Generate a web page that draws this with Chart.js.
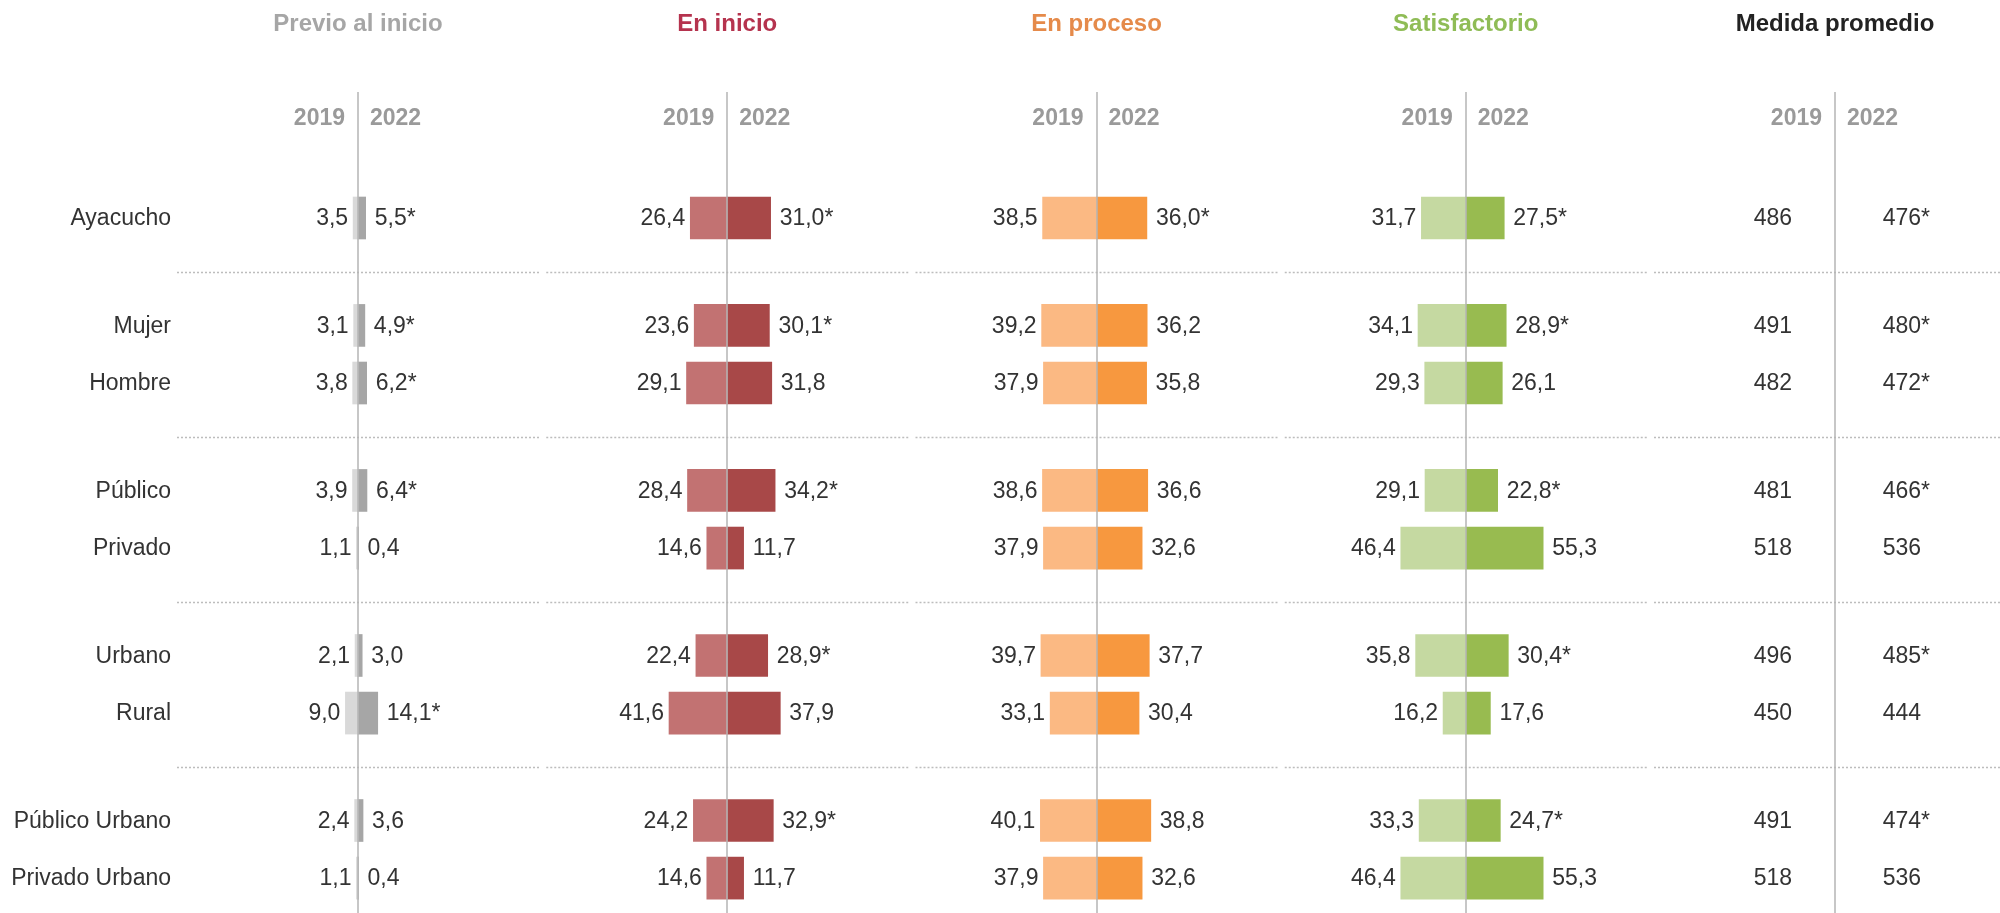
<!DOCTYPE html>
<html lang="es">
<head>
<meta charset="utf-8">
<title>Niveles de logro - Ayacucho</title>
<script src="https://cdn.jsdelivr.net/npm/chart.js@4.4.1/dist/chart.umd.min.js"></script>
<style>
    html, body { margin: 0; padding: 0; background: #fff; }
    #wrap { width: 2000px; height: 913px; position: relative; }
</style>
</head>
<body>
<div id="wrap"><canvas id="chart" width="2000" height="913"></canvas></div>
<script>
/* =========================
   DATA
   ========================= */
const rows = ['Ayacucho', 'Mujer', 'Hombre', 'Público', 'Privado', 'Urbano', 'Rural', 'Público Urbano', 'Privado Urbano'];
// groupe de chaque ligne (séparateurs pointillés entre groupes)
const rowGroup = [0, 1, 1, 2, 2, 3, 3, 4, 4];

const years = ['2019', '2022'];
const levels = ['Previo al inicio', 'En inicio', 'En proceso', 'Satisfactorio'];
const scoreTitle = 'Medida promedio';

const previo2019 = [3.5, 3.1, 3.8, 3.9, 1.1, 2.1, 9.0, 2.4, 1.1];
const previo2022 = [5.5, 4.9, 6.2, 6.4, 0.4, 3.0, 14.1, 3.6, 0.4];
const previoSig = [true, true, true, true, false, false, true, false, false];

const inicio2019 = [26.4, 23.6, 29.1, 28.4, 14.6, 22.4, 41.6, 24.2, 14.6];
const inicio2022 = [31.0, 30.1, 31.8, 34.2, 11.7, 28.9, 37.9, 32.9, 11.7];
const inicioSig = [true, true, false, true, false, true, false, true, false];

const proceso2019 = [38.5, 39.2, 37.9, 38.6, 37.9, 39.7, 33.1, 40.1, 37.9];
const proceso2022 = [36.0, 36.2, 35.8, 36.6, 32.6, 37.7, 30.4, 38.8, 32.6];
const procesoSig = [true, false, false, false, false, false, false, false, false];

const satis2019 = [31.7, 34.1, 29.3, 29.1, 46.4, 35.8, 16.2, 33.3, 46.4];
const satis2022 = [27.5, 28.9, 26.1, 22.8, 55.3, 30.4, 17.6, 24.7, 55.3];
const satisSig = [true, true, false, true, false, true, false, true, false];

const score2019 = [486, 491, 482, 481, 518, 496, 450, 491, 518];
const score2022 = [476, 480, 472, 466, 536, 485, 444, 474, 536];
const scoreSig = [true, true, true, true, false, true, false, true, false];

/* =========================
   CONFIG (mise en page / couleurs)
   ========================= */
const CONFIG = {
    font: '"Liberation Sans", Arial, sans-serif',
    pxPerUnit: 1.4,        // largeur d'une unité de % en pixels
    firstAxis: 358,        // x de l'axe du premier panneau
    panelStep: 369.25,     // écart entre deux axes
    panelHalf: 183,
    rowStep: 57.6,         // écart entre deux lignes
    groupGap: 0.865,       // espace supplémentaire entre groupes (en lignes)
    firstRowY: 218,
    axisTop: 92,
    titleY: 24,
    yearY: 119,
    labelRight: 171,
    barThickness: 42,
    colors: {
        previo: { title: '#a6a6a6', y19: '#d9d9d9', y22: '#a6a6a6' },
        inicio: { title: '#b5334e', y19: '#c27272', y22: '#a84848' },
        proceso: { title: '#e58a4a', y19: '#fbb983', y22: '#f7983f' },
        satis: { title: '#8fbc56', y19: '#c5d9a1', y22: '#98bb50' },
        score: { title: '#222222' },
        text: '#333333',
        year: '#9a9a9a',
        axis: '#b4b4b4',
        dots: '#bdbdbd'
    }
};

const panels = [
    { key: 'previo', title: levels[0], v19: previo2019, v22: previo2022, sig: previoSig },
    { key: 'inicio', title: levels[1], v19: inicio2019, v22: inicio2022, sig: inicioSig },
    { key: 'proceso', title: levels[2], v19: proceso2019, v22: proceso2022, sig: procesoSig },
    { key: 'satis', title: levels[3], v19: satis2019, v22: satis2022, sig: satisSig }
];

// position verticale de chaque ligne (unités = lignes)
const rowPos = rows.map((r, i) => i + rowGroup[i] * CONFIG.groupGap);

function fmt(v) {
    return v.toFixed(1).replace('.', ',');
}

/* =========================
   SCALES
   ========================= */
const W = 2000, H = 913;

function axisX(k) {
    return CONFIG.firstAxis + k * CONFIG.panelStep;
}

const scales = {
    y: {
        type: 'linear',
        display: false,
        reverse: true,
        offset: false,
        grid: { offset: false },
        bounds: 'data',
        min: -CONFIG.firstRowY / CONFIG.rowStep,
        max: (H - CONFIG.firstRowY) / CONFIG.rowStep
    }
};
for (let k = 0; k < 5; k++) {
    scales['x' + k] = {
        type: 'linear',
        display: false,
        axis: 'x',
        offset: false,
        min: -axisX(k) / CONFIG.pxPerUnit,
        max: (W - axisX(k)) / CONFIG.pxPerUnit
    };
}

/* =========================
   DATASETS
   ========================= */
const datasets = [];
panels.forEach((p, k) => {
    const c = CONFIG.colors[p.key];
    datasets.push({
        label: p.title + ' ' + years[0],
        xAxisID: 'x' + k,
        data: p.v19.map((v, i) => ({ x: -v, y: rowPos[i] })),
        backgroundColor: c.y19,
        panel: k, year: 0
    });
    datasets.push({
        label: p.title + ' ' + years[1],
        xAxisID: 'x' + k,
        data: p.v22.map((v, i) => ({ x: v, y: rowPos[i] })),
        backgroundColor: c.y22,
        panel: k, year: 1
    });
});

/* =========================
   PLUGIN: textes, axes, séparateurs
   ========================= */
const decorPlugin = {
    id: 'decor',
    beforeDatasetsDraw(chart) {
        const ctx = chart.ctx;
        const yS = chart.scales.y;
        ctx.save();

        // séparateurs pointillés entre groupes
        ctx.strokeStyle = CONFIG.colors.dots;
        ctx.lineWidth = 1.5;
        ctx.setLineDash([2, 2]);
        for (let i = 1; i < rows.length; i++) {
            if (rowGroup[i] === rowGroup[i - 1]) continue;
            const y = Math.round(yS.getPixelForValue((rowPos[i] + rowPos[i - 1]) / 2)) + 0.5;
            for (let k = 0; k < 5; k++) {
                const cx = chart.scales['x' + k].getPixelForValue(0);
                ctx.beginPath();
                ctx.moveTo(cx - CONFIG.panelHalf + 2, y);
                ctx.lineTo(cx + CONFIG.panelHalf - 2, y);
                ctx.stroke();
            }
        }
        ctx.setLineDash([]);

        // libellés des lignes
        ctx.font = '23px ' + CONFIG.font;
        ctx.fillStyle = CONFIG.colors.text;
        ctx.textAlign = 'right';
        ctx.textBaseline = 'middle';
        rows.forEach((r, i) => {
            ctx.fillText(r, CONFIG.labelRight, yS.getPixelForValue(rowPos[i]) + 1);
        });

        // titres + années
        const titles = levels.concat([scoreTitle]);
        const titleColors = ['previo', 'inicio', 'proceso', 'satis', 'score'];
        for (let k = 0; k < 5; k++) {
            const cx = chart.scales['x' + k].getPixelForValue(0);
            ctx.font = 'bold 24px ' + CONFIG.font;
            ctx.fillStyle = CONFIG.colors[titleColors[k]].title;
            ctx.textAlign = 'center';
            ctx.fillText(titles[k], cx, CONFIG.titleY);

            ctx.font = 'bold 23px ' + CONFIG.font;
            ctx.fillStyle = CONFIG.colors.year;
            ctx.textAlign = 'right';
            ctx.fillText(years[0], cx - 13, CONFIG.yearY);
            ctx.textAlign = 'left';
            ctx.fillText(years[1], cx + 12, CONFIG.yearY);
        }

        // colonne "Medida promedio"
        const sx = chart.scales.x4.getPixelForValue(0);
        ctx.font = '23px ' + CONFIG.font;
        ctx.fillStyle = CONFIG.colors.text;
        rows.forEach((r, i) => {
            const y = yS.getPixelForValue(rowPos[i]) + 1;
            ctx.textAlign = 'right';
            ctx.fillText(String(score2019[i]), sx - 43, y);
            ctx.fillText(String(score2022[i]), sx + 86, y);
            if (scoreSig[i]) {
                ctx.textAlign = 'left';
                ctx.fillText('*', sx + 86, y);
            }
        });
        ctx.restore();
    },
    afterDatasetsDraw(chart) {
        const ctx = chart.ctx;
        const yS = chart.scales.y;
        ctx.save();

        // axes verticaux (par-dessus les barres)
        ctx.strokeStyle = CONFIG.colors.axis;
        ctx.lineWidth = 1.5;
        for (let k = 0; k < 5; k++) {
            const cx = Math.round(chart.scales['x' + k].getPixelForValue(0));
            ctx.beginPath();
            ctx.moveTo(cx, CONFIG.axisTop);
            ctx.lineTo(cx, H);
            ctx.stroke();
        }

        // valeurs des barres
        ctx.font = '23px ' + CONFIG.font;
        ctx.fillStyle = CONFIG.colors.text;
        ctx.textBaseline = 'middle';
        chart.data.datasets.forEach((ds, di) => {
            const meta = chart.getDatasetMeta(di);
            const p = panels[ds.panel];
            meta.data.forEach((bar, i) => {
                const y = yS.getPixelForValue(rowPos[i]) + 1;
                if (ds.year === 0) {
                    ctx.textAlign = 'right';
                    ctx.fillText(fmt(p.v19[i]), bar.x - 5, y);
                } else {
                    ctx.textAlign = 'left';
                    ctx.fillText(fmt(p.v22[i]) + (p.sig[i] ? '*' : ''), bar.x + 9, y);
                }
            });
        });
        ctx.restore();
    }
};

/* =========================
   CHART
   ========================= */
Chart.defaults.font.family = CONFIG.font;

new Chart(document.getElementById('chart'), {
    type: 'bar',
    data: { datasets },
    options: {
        indexAxis: 'y',
        responsive: false,
        animation: false,
        events: [],
        layout: { padding: 0 },
        datasets: {
            bar: {
                grouped: false,
                barThickness: CONFIG.barThickness,
                borderWidth: 0
            }
        },
        scales,
        plugins: {
            legend: { display: false },
            title: { display: false },
            tooltip: { enabled: false }
        }
    },
    plugins: [decorPlugin]
});
</script>
</body>
</html>
